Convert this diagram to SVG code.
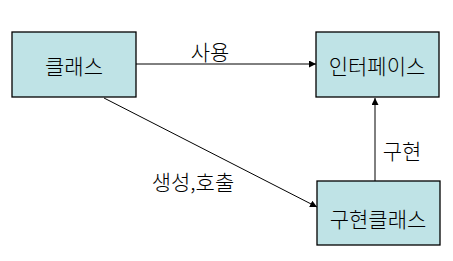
<svg xmlns="http://www.w3.org/2000/svg" width="453" height="261" viewBox="0 0 453 261">
<style>
.box{fill:#BFE3E6;stroke:#000;stroke-width:1.3}
.t{font-family:"Noto Sans CJK KR","DejaVu Sans",sans-serif;font-size:21px;font-weight:300;fill:#000;text-anchor:middle;dominant-baseline:central}
.c{stroke:#000;stroke-width:1;fill:none;marker-end:url(#ah)}
</style>
<defs>
<marker id="ah" viewBox="0 0 10 10" refX="10" refY="5" markerWidth="7" markerHeight="7" markerUnits="userSpaceOnUse" orient="auto">
<path d="M0,0 L10,5 L0,10 z" fill="#000"/>
</marker>
</defs>
<rect width="453" height="261" fill="#fff"/>
<g id="connectors">
<line class="c" x1="136" y1="64" x2="316" y2="64"/>
<line class="c" x1="104" y1="98" x2="317" y2="207"/>
<line class="c" x1="375" y1="181" x2="375" y2="98"/>
<text class="t" x="210" y="51">사용</text>
<text class="t" x="402" y="150">구현</text>
<text class="t" x="193" y="181">생성,호출</text>
</g>
<g id="class">
<rect class="box" x="12" y="32" width="124" height="65"/>
<text class="t" x="74" y="65">클래스</text>
</g>
<g id="interface">
<rect class="box" x="316" y="32" width="123" height="65"/>
<text class="t" x="377" y="65">인터페이스</text>
</g>
<g id="implclass">
<rect class="box" x="317" y="181" width="123" height="64"/>
<text class="t" x="378" y="218">구현클래스</text>
</g>
</svg>
